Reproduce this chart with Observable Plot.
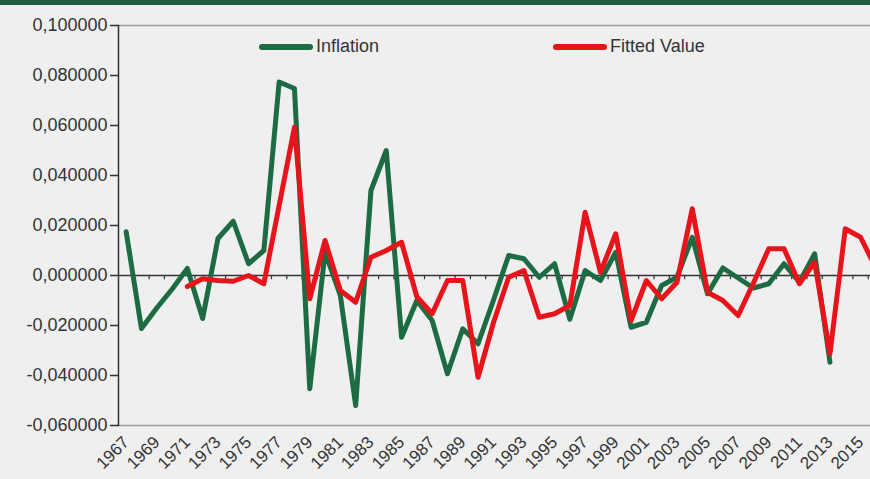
<!DOCTYPE html>
<html>
<head>
<meta charset="utf-8">
<script src="https://cdn.jsdelivr.net/npm/d3@7"></script>
<script src="https://cdn.jsdelivr.net/npm/@observablehq/plot@0.6"></script>
<style>
  html, body { margin: 0; padding: 0; background: #efefef; width: 870px; height: 479px; overflow: hidden; }
  #wrap { position: relative; width: 870px; height: 479px; }
  #topbar { height: 5px; background: #1d5d3e; }
  .leg { position: absolute; display: flex; align-items: center; font-family: "Liberation Sans", Arial, sans-serif; font-size: 18px; color: #333; }
  .leg .sw { width: 54px; height: 6px; border-radius: 3px; margin-right: 3px; }
</style>
</head>
<body>
<div id="wrap">
  <div id="topbar"></div>
  <div id="chart"></div>
  <div class="leg" id="leg1" style="left:259px; top:36px;"><span class="sw" style="background:#1d6b43"></span><span>Inflation</span></div>
  <div class="leg" id="leg2" style="left:553px; top:36px;"><span class="sw" style="background:#e8141c"></span><span>Fitted Value</span></div>
</div>
<script>
const years = d3.range(1967, 2017);
const inflation = [
  0.0175, -0.0212, -0.0130, -0.0055, 0.0028, -0.0172, 0.0148, 0.0217, 0.0047, 0.0100,
  0.0774, 0.0748, -0.0453, 0.0093, -0.0080, -0.0520, 0.0340, 0.0500, -0.0247, -0.0100,
  -0.0180, -0.0393, -0.0213, -0.0273, -0.0100, 0.0080, 0.0067, -0.0007, 0.0047, -0.0175,
  0.0020, -0.0020, 0.0093, -0.0207, -0.0187, -0.0040, -0.0007, 0.0153, -0.0073, 0.0030,
  -0.0010, -0.0050, -0.0033, 0.0047, -0.0027, 0.0087, -0.0347, null, null, null
];
const fitted = [
  null, null, null, null, -0.0044, -0.0013, -0.0020, -0.0023, 0.0000, -0.0033,
  0.0280, 0.0593, -0.0093, 0.0140, -0.0060, -0.0107, 0.0073, 0.0100, 0.0133, -0.0085,
  -0.0153, -0.0020, -0.0020, -0.0407, -0.0190, -0.0007, 0.0020, -0.0167, -0.0153, -0.0120,
  0.0253, 0.0013, 0.0167, -0.0180, -0.0020, -0.0093, -0.0027, 0.0267, -0.0067, -0.0100,
  -0.0160, -0.0030, 0.0107, 0.0107, -0.0033, 0.0053, -0.0313, 0.0187, 0.0153, 0.0030
];
const yTicks = [-0.06, -0.04, -0.02, 0, 0.02, 0.04, 0.06, 0.08, 0.10];
const xTickYears = d3.range(1967, 2016, 2);

const rows = years.map((y, i) => ({year: y, inflation: inflation[i], fitted: fitted[i]}));
const boundaries = years.map(y => y + 0.5);
const fmt = d => d.toFixed(6).replace(".", ",");

const chart = Plot.plot({
  width: 870,
  height: 474,
  marginLeft: 118,
  marginRight: 0,
  marginTop: 20,
  marginBottom: 54,
  style: {background: "transparent", fontFamily: "'Liberation Sans', Arial, sans-serif", color: "#333"},
  x: {type: "linear", domain: [1966.5, 2015.65], label: null},
  y: {domain: [-0.06, 0.10], label: null},
  marks: [
    Plot.frame({anchor: "top", stroke: "#9a9a9a", strokeWidth: 1.5}),
    Plot.frame({anchor: "bottom", stroke: "#9a9a9a", strokeWidth: 1.5}),
    Plot.ruleY([0], {stroke: "#333", strokeWidth: 1.5}),
    Plot.ruleX(boundaries, {x: d => d, y1: 0, y2: -0.0017, stroke: "#333", strokeWidth: 1.2}),
    Plot.axisY({ticks: yTicks, tickFormat: fmt, tickSize: 8, tickPadding: 3, fontSize: 18, stroke: "#333", strokeWidth: 1.5, color: "#333", label: null}),
    Plot.frame({anchor: "left", stroke: "#333", strokeWidth: 1.5}),
    Plot.axisX({ticks: xTickYears, tickFormat: d => String(d), tickRotate: -45, tickSize: 0, tickPadding: 14, fontSize: 17, color: "#333", label: null}),
    Plot.line(rows, {x: "year", y: "inflation", stroke: "#1d6b43", strokeWidth: 5, strokeLinejoin: "round", clip: true}),
    Plot.line(rows, {x: "year", y: "fitted", stroke: "#e8141c", strokeWidth: 5, strokeLinejoin: "round", clip: true})
  ]
});
document.getElementById("chart").appendChild(chart);
</script>
</body>
</html>
